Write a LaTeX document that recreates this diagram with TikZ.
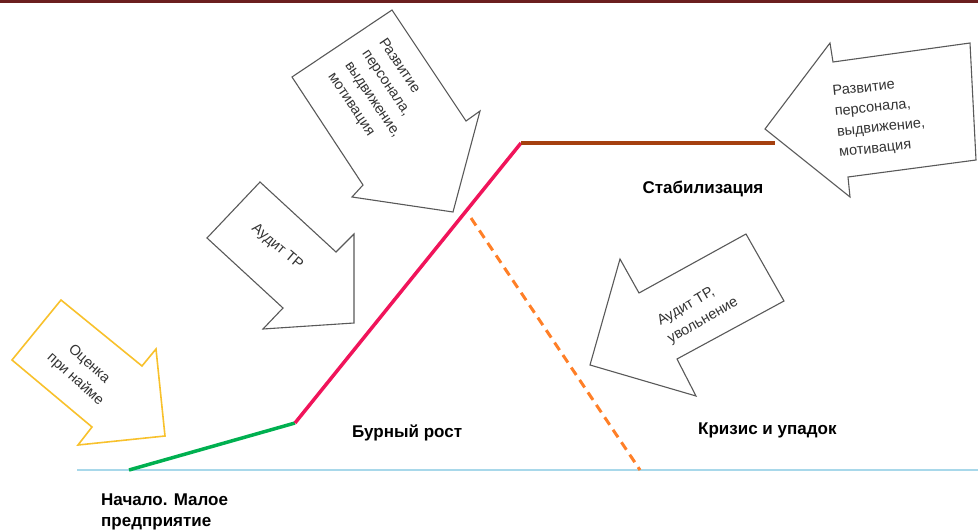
\documentclass[tikz,border=0pt]{standalone}
\usepackage{fontspec}
\setmainfont{Liberation Sans}
\usepackage{xcolor}
\usetikzlibrary{positioning}

\definecolor{topbar}{HTML}{6B1F1F}
\definecolor{axisblue}{HTML}{A8D8EA}
\definecolor{startgreen}{HTML}{00B050}
\definecolor{growred}{HTML}{F0145A}
\definecolor{stablebrown}{HTML}{A5400F}
\definecolor{crisisorange}{HTML}{FF7F27}
\definecolor{hireyellow}{HTML}{F8C12C}

\begin{document}
\begin{tikzpicture}[
  x=1pt, y=-1pt,
  blockarrow/.style={draw=black!65, line width=1.1pt, fill=white, line join=miter},
  arrowtext/.style={font=\fontsize{14.5}{20.5}\selectfont, text=black!80, align=left, inner sep=0pt},
  phase/.style={font=\bfseries\fontsize{17}{22}\selectfont, anchor=base, inner sep=0pt},
  stage/.style={line width=3.5pt}
]
\useasboundingbox (0,0) rectangle (978,530);
\fill[topbar] (0,0) rectangle (978,2.5);

% axis and stage lines
\coordinate (axisL) at (77,470);
\coordinate (axisR) at (978,470);
\coordinate (start) at (129,470);
\coordinate (growth) at (295,423);
\coordinate (peak) at (521,143);
\coordinate (plateau) at (775,143);
\coordinate (fallstart) at (471,218);
\coordinate (fallend) at (640,470);
\draw[axisblue, line width=1.5pt] (axisL) -- (axisR);
\draw[stage, startgreen] (start) -- (growth);
\draw[stage, growred] (growth) -- (peak);
\draw[stage, stablebrown] (peak) -- (plateau);
\draw[stage, crisisorange, line width=3pt, dash pattern=on 9pt off 6pt] (fallstart) -- (fallend);

% block arrows
\draw[blockarrow, draw=hireyellow, line width=1.6pt] (61,300) -- (12,360) -- (92,427) -- (78,445)
  -- (165,436) -- (156,349) -- (142,366) -- cycle;
\draw[blockarrow] (260,182) -- (207,238) -- (283,308) -- (263,329)
  -- (354,323) -- (354,234) -- (336,252) -- cycle;
\draw[blockarrow] (392,10) -- (292,77) -- (363,185) -- (352,197)
  -- (453,212) -- (480,111) -- (466,121) -- cycle;
\draw[blockarrow] (830,43) -- (765,129) -- (850,197) -- (848,177)
  -- (976,160) -- (970,43) -- (833,62) -- cycle;
\draw[blockarrow] (746,234) -- (639,293) -- (620,259) -- (590,365)
  -- (696,396) -- (677,359) -- (784,301) -- cycle;

% arrow texts
\node[arrowtext, align=center, rotate=-42] (hire) at (82,372) {Оценка\\при найме};
\node[arrowtext, rotate=-40] (audit) at (277,247) {Аудит ТР};
\node[arrowtext, rotate=-56] (develop) at (381,94) {Развитие\\персонала,\\выдвижение,\\мотивация};
\node[arrowtext, rotate=6] (developR) at (880,118) {Развитие\\персонала,\\выдвижение,\\мотивация};
\node[arrowtext, rotate=30] (dismiss) at (698,312) {Аудит ТР,\\увольнение};

% stage labels
\node[phase] (stable) at (703,193) {Стабилизация};
\node[phase, anchor=base west] (crisis) at (698,434) {Кризис и упадок};
\node[phase, anchor=base west] (boom) at (352,437) {Бурный рост};
\node[phase, anchor=base west] (begin) at (101,505) {Начало. Малое};
\node[phase, anchor=base west] (small) at (101,526) {предприятие};
\end{tikzpicture}
\end{document}
